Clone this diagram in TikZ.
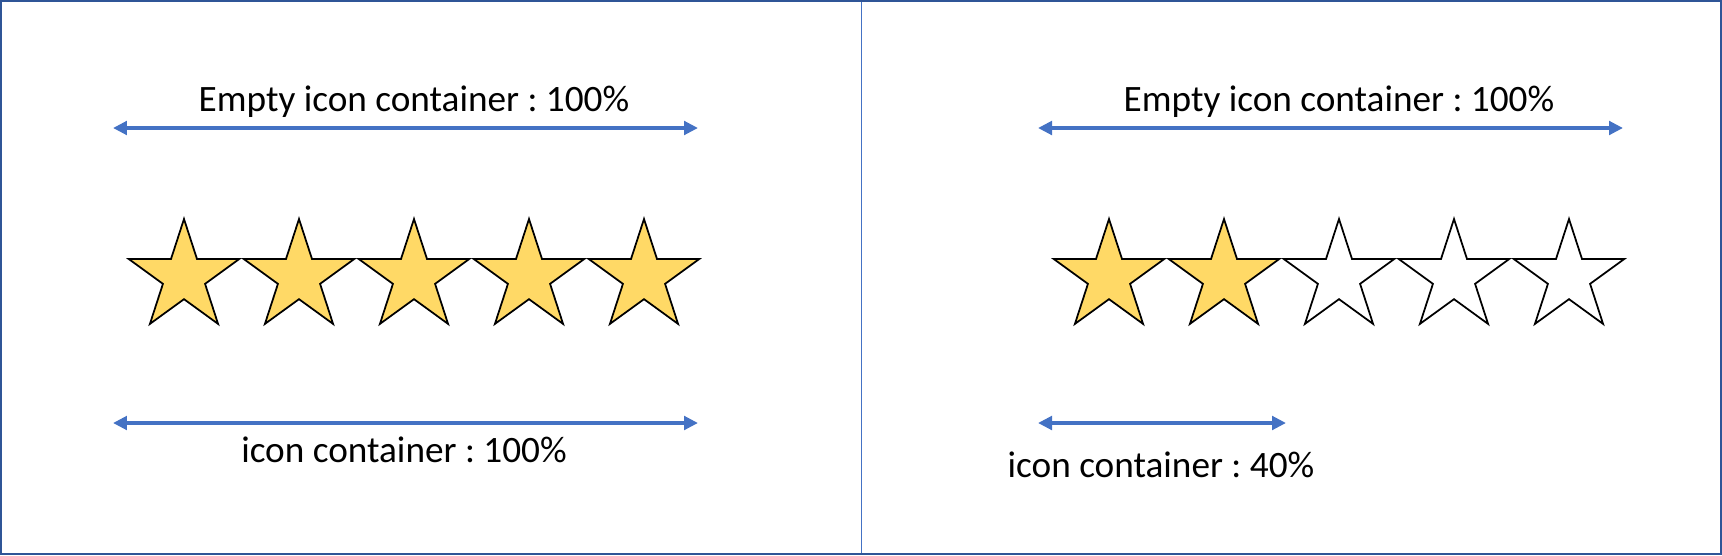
\documentclass[tikz,border=0pt]{standalone}
\usepackage{fontspec}
\setmainfont{Carlito}
\usepackage{tikz}
\usetikzlibrary{arrows.meta,positioning,shapes.geometric}
\definecolor{Frame}{HTML}{2F5597}
\definecolor{Accent}{HTML}{4472C4}
\definecolor{Gold}{HTML}{FFD966}
\frenchspacing
\tikzset{
  starbox/.style={star, star points=5, star point ratio=2.618, draw=black,
    line width=0.035cm, minimum size=2.32cm, inner sep=0pt},
  fullstar/.style={starbox, fill=Gold},
  emptystar/.style={starbox, fill=white},
  span/.style={{Triangle[length=0.28cm,width=0.27cm]}-{Triangle[length=0.28cm,width=0.27cm]},
    line width=0.09cm, draw=Accent},
  caption/.style={font=\fontsize{21.2}{25}\selectfont, inner sep=0pt, anchor=base}
}

\begin{document}
\begin{tikzpicture}[x=0.02cm, y=-0.02cm]
  \useasboundingbox (0,0) rectangle (1722,555);
  \draw[Frame, line width=0.04cm] (1,1) rectangle (1721,554);
  \draw[Accent, line width=0.02cm] (861,2) -- (861,553);

  % left panel: five full stars
  \node[fullstar] (l1) at (184,277) {};
  \node[fullstar] (l2) at (299,277) {};
  \node[fullstar] (l3) at (414,277) {};
  \node[fullstar] (l4) at (529,277) {};
  \node[fullstar] (l5) at (644,277) {};
  \coordinate (lt-w) at (113,128);
  \coordinate (lt-e) at (698,128);
  \coordinate (lb-w) at (113,423);
  \coordinate (lb-e) at (698,423);
  \node[caption] (ltop) at (414,111) {Empty icon container : 100\%};
  \node[caption] (lbot) at (404,462) {icon container : 100\%};
  \draw[span] (lt-w) -- (lt-e);
  \draw[span] (lb-w) -- (lb-e);

  % right panel: two full stars, three empty
  \node[fullstar] (r1) at (1109,277) {};
  \node[fullstar] (r2) at (1224,277) {};
  \node[emptystar] (r3) at (1339,277) {};
  \node[emptystar] (r4) at (1454,277) {};
  \node[emptystar] (r5) at (1569,277) {};
  \coordinate (rt-w) at (1038,128);
  \coordinate (rt-e) at (1623,128);
  \coordinate (rb-w) at (1038,423);
  \coordinate (rb-e) at (1286,423);
  \node[caption] (rtop) at (1339,111) {Empty icon container : 100\%};
  \node[caption] (rbot) at (1161,477) {icon container : 40\%};
  \draw[span] (rt-w) -- (rt-e);
  \draw[span] (rb-w) -- (rb-e);
\end{tikzpicture}
\end{document}
